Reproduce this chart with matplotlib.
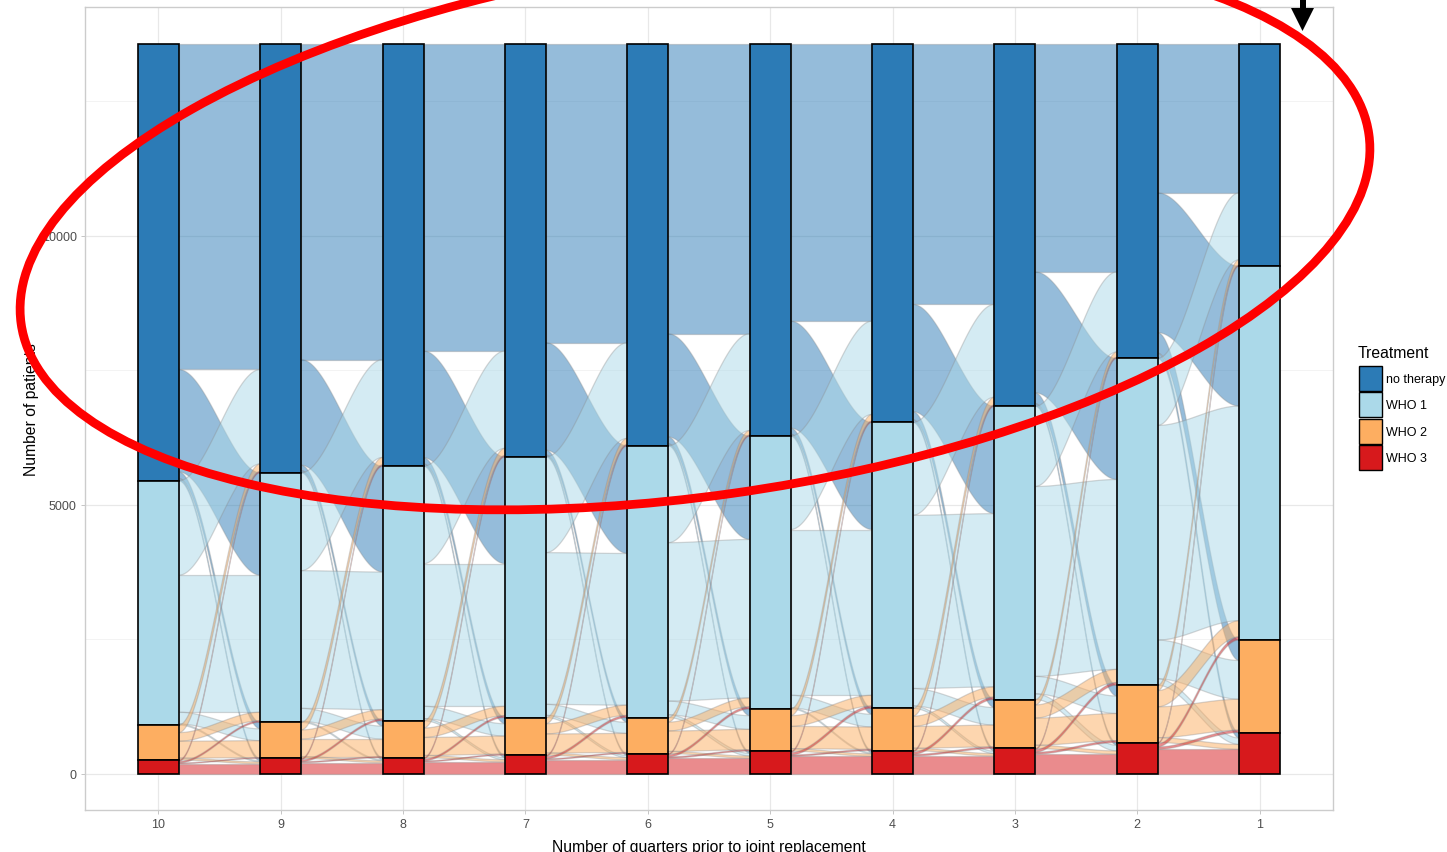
import numpy as np
import matplotlib
matplotlib.use('Agg')
import matplotlib.pyplot as plt
from matplotlib.colors import to_rgba
from matplotlib.patches import Polygon, Rectangle, Ellipse

plt.rcParams['font.family'] = ['Liberation Sans', 'DejaVu Sans']

quarters = ['10', '9', '8', '7', '6', '5', '4', '3', '2', '1']
treatments = ['no therapy', 'WHO 1', 'WHO 2', 'WHO 3']
colors = ['#2C7BB6', '#ABD9E9', '#FDAE61', '#D7191C']

# patients moving between consecutive quarters, rows = from, cols = to
# order: no therapy, WHO 1, WHO 2, WHO 3
flow_10_9 = [[6060, 1905, 120, 45],
             [1755, 2545, 220, 20],
             [140, 160, 315, 35],
             [25, 30, 15, 180]]
flow_9_8 = [[5875, 1965, 100, 40],
            [1820, 2560, 240, 20],
            [140, 170, 325, 35],
            [25, 35, 20, 200]]
flow_8_7 = [[5715, 1985, 115, 45],
            [1810, 2650, 230, 40],
            [135, 175, 335, 40],
            [25, 35, 20, 215]]
flow_7_6 = [[5560, 2000, 90, 35],
            [1780, 2820, 205, 40],
            [115, 190, 355, 40],
            [25, 40, 20, 255]]
flow_6_5 = [[5395, 1920, 125, 40],
            [1800, 2945, 255, 50],
            [85, 165, 380, 40],
            [20, 40, 25, 285]]
flow_5_4 = [[5160, 1990, 110, 40],
            [1735, 3080, 235, 20],
            [125, 200, 415, 45],
            [25, 45, 25, 320]]
flow_4_3 = [[4850, 1995, 150, 50],
            [1725, 3220, 325, 45],
            [145, 190, 405, 45],
            [25, 45, 30, 325]]
flow_3_2 = [[4245, 2250, 200, 50],
            [1490, 3530, 325, 105],
            [100, 245, 505, 60],
            [20, 50, 35, 360]]
flow_2_1 = [[2775, 2600, 380, 100],
            [1245, 3990, 720, 120],
            [100, 300, 575, 90],
            [20, 60, 45, 450]]

flows = [flow_10_9, flow_9_8, flow_8_7, flow_7_6, flow_6_5,
         flow_5_4, flow_4_3, flow_3_2, flow_2_1]


def smooth(t):
    return t * t * (3 - 2 * t)


def stratum_tops(counts):
    # categories stacked top to bottom: no therapy ... WHO 3
    total = counts.sum()
    return total - np.concatenate([[0], np.cumsum(counts)[:-1]])


W, H = 1447, 853
fig = plt.figure(figsize=(W / 100, H / 100), dpi=100)
ax = fig.add_axes([85 / W, 42 / H, 1248 / W, 803 / H])

width = 1 / 3
strata = [np.array(flows[0]).sum(axis=1)] + [np.array(f).sum(axis=0) for f in flows]
total = strata[0].sum()

# Flows
t = np.linspace(0, 1, 80)
s = smooth(t)
edge = (0.55, 0.55, 0.55, 0.35)
for i, f in enumerate(flows):
    f = np.array(f, dtype=float)
    ltop = stratum_tops(strata[i])
    rtop = stratum_tops(strata[i + 1])
    x0, x1 = i + width / 2, i + 1 - width / 2
    xs = x0 + (x1 - x0) * t
    for a in range(4):
        for b in range(4):
            h = f[a, b]
            if h <= 0:
                continue
            yl = ltop[a] - f[a, :b].sum()
            yr = rtop[b] - f[:a, b].sum()
            top = yl + (yr - yl) * s
            bot = top - h
            verts = np.vstack([np.column_stack([xs, top]),
                               np.column_stack([xs[::-1], bot[::-1]])])
            ax.add_patch(Polygon(verts, closed=True, facecolor=to_rgba(colors[a], 0.5),
                                 edgecolor=edge, lw=0.9, zorder=2))

# Strata
for i, counts in enumerate(strata):
    tops = stratum_tops(counts)
    for k in range(4):
        ax.add_patch(Rectangle((i - width / 2, tops[k] - counts[k]), width, counts[k],
                               facecolor=colors[k], edgecolor='black', lw=1.2, zorder=3))

# Axes styling
pad = total * 0.05
ax.set_xlim(-0.6, len(quarters) - 0.4)
ax.set_ylim(-pad, total + pad)
ax.set_xticks(range(len(quarters)))
ax.set_xticklabels(quarters)
ax.set_yticks([0, 5000, 10000])
ax.set_yticks([2500, 7500, 12500], minor=True)
ax.grid(True, which='major', color='#E8E8E8', lw=0.9)
ax.grid(True, which='minor', axis='y', color='#F1F1F1', lw=0.6)
ax.set_axisbelow(True)
for sp in ax.spines.values():
    sp.set_color('#CCCCCC')
    sp.set_linewidth(1.0)
ax.tick_params(which='major', length=3, width=0.6, color='#BBBBBB',
               labelsize=9, labelcolor='#4D4D4D', pad=3)
ax.tick_params(which='minor', length=0)
ax.set_xlabel('Number of quarters prior to joint replacement', fontsize=11.3, labelpad=6)
ax.set_ylabel('Number of patients', fontsize=11.3, labelpad=2)

# Overlay in pixel coordinates: legend and annotations
ov = fig.add_axes([0, 0, 1, 1])
ov.set_xlim(0, W)
ov.set_ylim(H, 0)
ov.axis('off')
ov.patch.set_alpha(0)
ov.set_zorder(10)

ov.text(1358, 353, 'Treatment', fontsize=11.3, ha='left', va='center')
for k, name in enumerate(treatments):
    y = 367 + 26.3 * k
    ov.add_patch(Rectangle((1359, y), 23, 25, facecolor=colors[k], edgecolor='black', lw=1.0))
    ov.text(1386, y + 13, name, fontsize=9, ha='left', va='center')

ov.add_patch(Ellipse((695, 230), 1361, 534, angle=-8.0, fill=False,
                     edgecolor='#FF0000', lw=6.3))
ov.add_patch(Rectangle((1299.5, -2), 6, 14, facecolor='black', edgecolor='none'))
ov.add_patch(Polygon([[1291, 9], [1314, 9], [1302.5, 32]], closed=True,
                     facecolor='black', edgecolor='none'))

fig.savefig('out.png', dpi=100)
